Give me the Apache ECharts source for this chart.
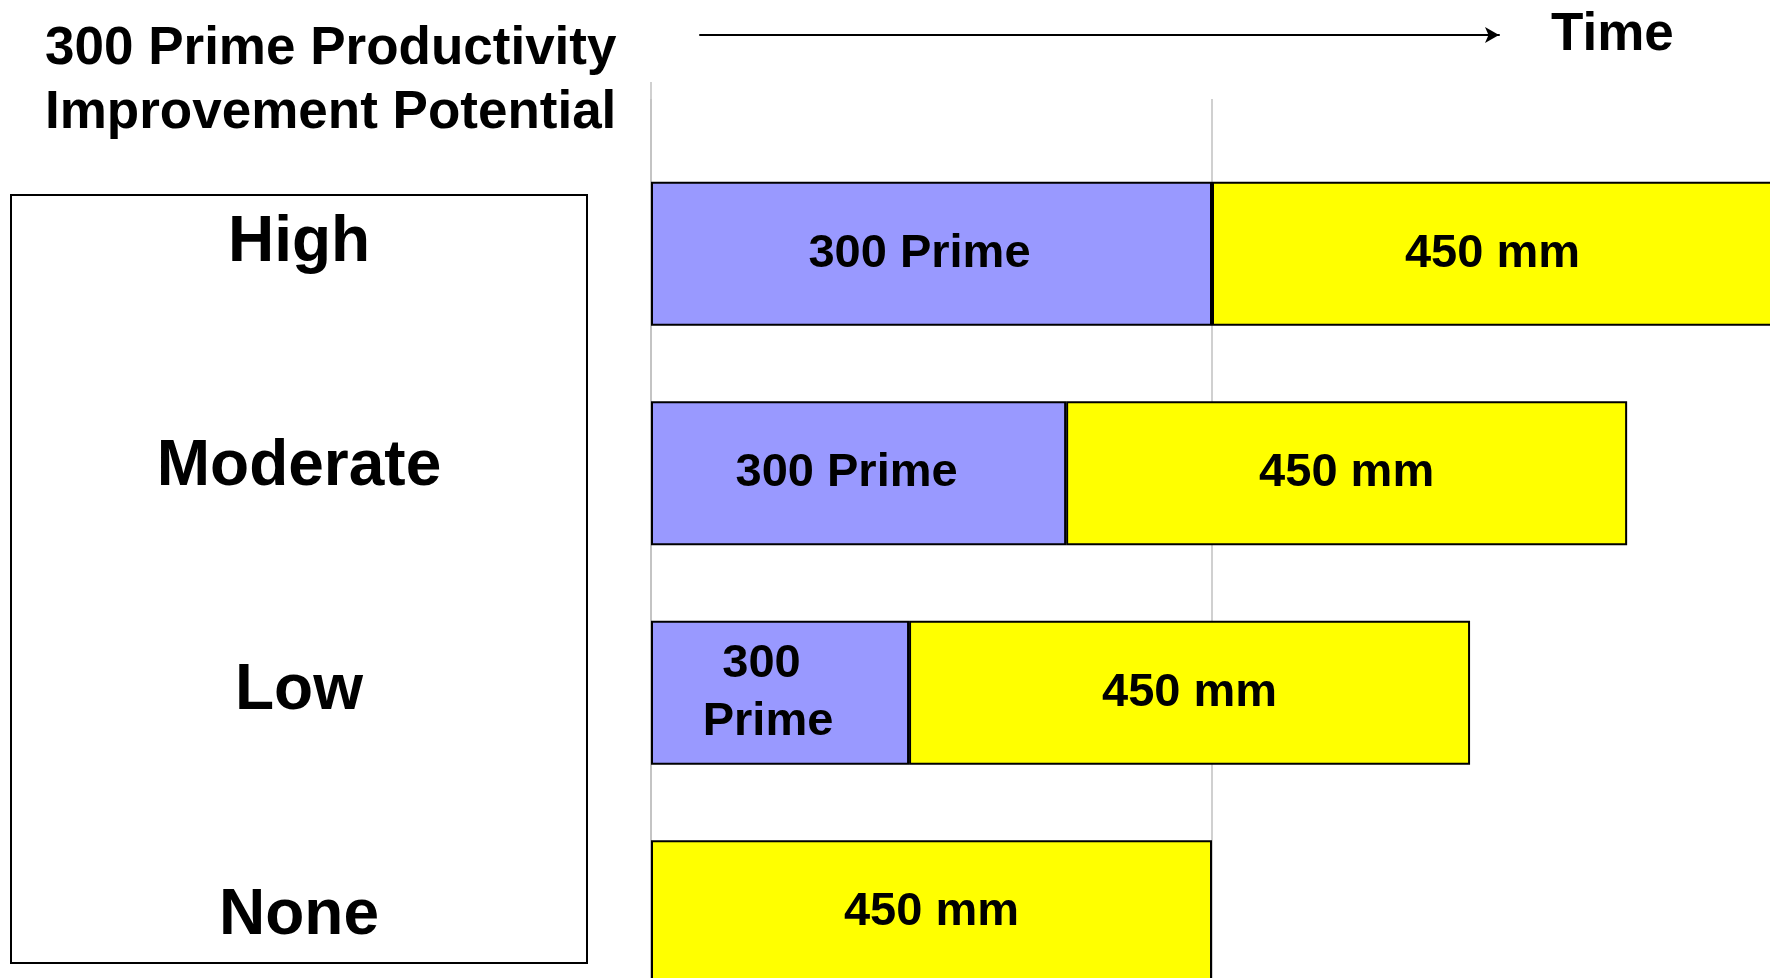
<!DOCTYPE html>
<html>
<head>
<meta charset="utf-8">
<script src="https://cdn.jsdelivr.net/npm/echarts@6/dist/echarts.min.js"></script>
<style>
  html, body { margin: 0; padding: 0; background: #fff; }
  #chart { width: 1770px; height: 978px; }
</style>
</head>
<body>
<div id="chart"></div>
<script>
// Improvement potential levels, top to bottom
const categories = ['High', 'Moderate', 'Low', 'None'];
// Phase names (one stacked segment each)
const phaseNames = ['300 Prime', '450 mm'];
// Duration of each phase per level, in time units (450 mm phase = 100)
const primeDuration = [100, 74, 46, null];
const mmDuration = [100, 100, 100, 100];
// Heading and time-axis text
const titleLines = ['300 Prime Productivity', 'Improvement Potential'];
const timeLabel = 'Time';

const FONT = '"Liberation Sans", Arial, Helvetica, sans-serif';
const chart = echarts.init(document.getElementById('chart'), null, { renderer: 'canvas' });

const off = { show: false };
const guideLine = { show: true, lineStyle: { color: '#c0c0c0', width: 1.5 } };

const barLabel = {
  show: true,
  position: 'inside',
  color: '#000',
  fontFamily: FONT,
  fontWeight: 'bold',
  fontSize: 47,
  lineHeight: 58,
  formatter: p => p.seriesName
};

// Narrow segments wrap their label onto two lines
const primeData = primeDuration.map(v => {
  if (v == null) return '-';
  return v < 60 ? { value: v, label: { width: 170, overflow: 'break' } } : v;
});

// Grids may run past the canvas edge (last row is cut off at the bottom)
const g = o => Object.assign({ outerBoundsMode: 'none', containLabel: false }, o);

const option = {
  animation: false,
  backgroundColor: '#fff',
  title: {
    text: titleLines.join('\n'),
    left: 45,
    top: 17,
    padding: 0,
    textStyle: { fontFamily: FONT, fontWeight: 'bold', fontSize: 53, lineHeight: 64, color: '#000' }
  },
  grid: [
    g({ left: 651, top: 144, width: 1122, height: 878 }),            // stacked phase bars
    g({ left: 651, top: 82, width: 1122, bottom: 0 }),               // start-of-time guide
    g({ left: 651, top: 99, width: 1122, bottom: 0 }),               // phase transition guide
    g({ left: 11, top: 195, width: 576, height: 768, show: true,     // level box
        borderColor: '#000', borderWidth: 2, backgroundColor: 'transparent' }),
    g({ left: 11, top: 131, width: 576, height: 897 }),              // level labels
    g({ left: 700, top: 35, width: 799, height: 10 })                // time arrow
  ],
  xAxis: [
    { gridIndex: 0, type: 'value', min: 0, max: 200, show: false },
    { gridIndex: 1, type: 'value', min: 0, max: 200, interval: 200,
      axisLine: off, axisTick: off, axisLabel: off, splitLine: guideLine },
    { gridIndex: 2, type: 'value', min: 0, max: 200, interval: 100,
      axisLine: off, axisTick: off, axisLabel: off, splitLine: guideLine },
    { gridIndex: 3, type: 'value', show: false },
    { gridIndex: 4, type: 'value', show: false },
    { gridIndex: 5, type: 'value', min: 0, max: 1, position: 'top',
      axisLine: { show: true, onZero: false, symbol: ['none', 'arrow'], symbolSize: [12, 14],
                  lineStyle: { color: '#000', width: 2 } },
      axisTick: off, axisLabel: off, splitLine: off,
      name: timeLabel, nameLocation: 'end', nameGap: 52,
      nameTextStyle: { fontFamily: FONT, fontWeight: 'bold', fontSize: 53, color: '#000',
                       verticalAlign: 'middle', padding: [0, 0, 10, 0] } }
  ],
  yAxis: [
    { gridIndex: 0, type: 'category', data: categories, inverse: true, show: false },
    { gridIndex: 1, type: 'value', show: false },
    { gridIndex: 2, type: 'value', show: false },
    { gridIndex: 3, type: 'value', show: false },
    { gridIndex: 4, type: 'category', data: categories, inverse: true,
      axisLine: off, axisTick: off, splitLine: off,
      axisLabel: { show: true, inside: true, interval: 0, margin: 288, align: 'center',
                   fontFamily: FONT, fontWeight: 'bold', fontSize: 64, color: '#000' } },
    { gridIndex: 5, type: 'value', min: 0, max: 1, show: false }
  ],
  series: [
    {
      name: phaseNames[0], type: 'bar', xAxisIndex: 0, yAxisIndex: 0,
      stack: 'timeline', barWidth: 144,
      itemStyle: { color: '#9999FF', borderColor: '#000', borderWidth: 2 },
      label: Object.assign({}, barLabel, { offset: [-12, 0] }),
      data: primeData
    },
    {
      name: phaseNames[1], type: 'bar', xAxisIndex: 0, yAxisIndex: 0,
      stack: 'timeline', barWidth: 144,
      itemStyle: { color: '#FFFF00', borderColor: '#000', borderWidth: 2 },
      label: barLabel,
      data: mmDuration
    }
  ]
};

chart.setOption(option);
</script>
</body>
</html>
